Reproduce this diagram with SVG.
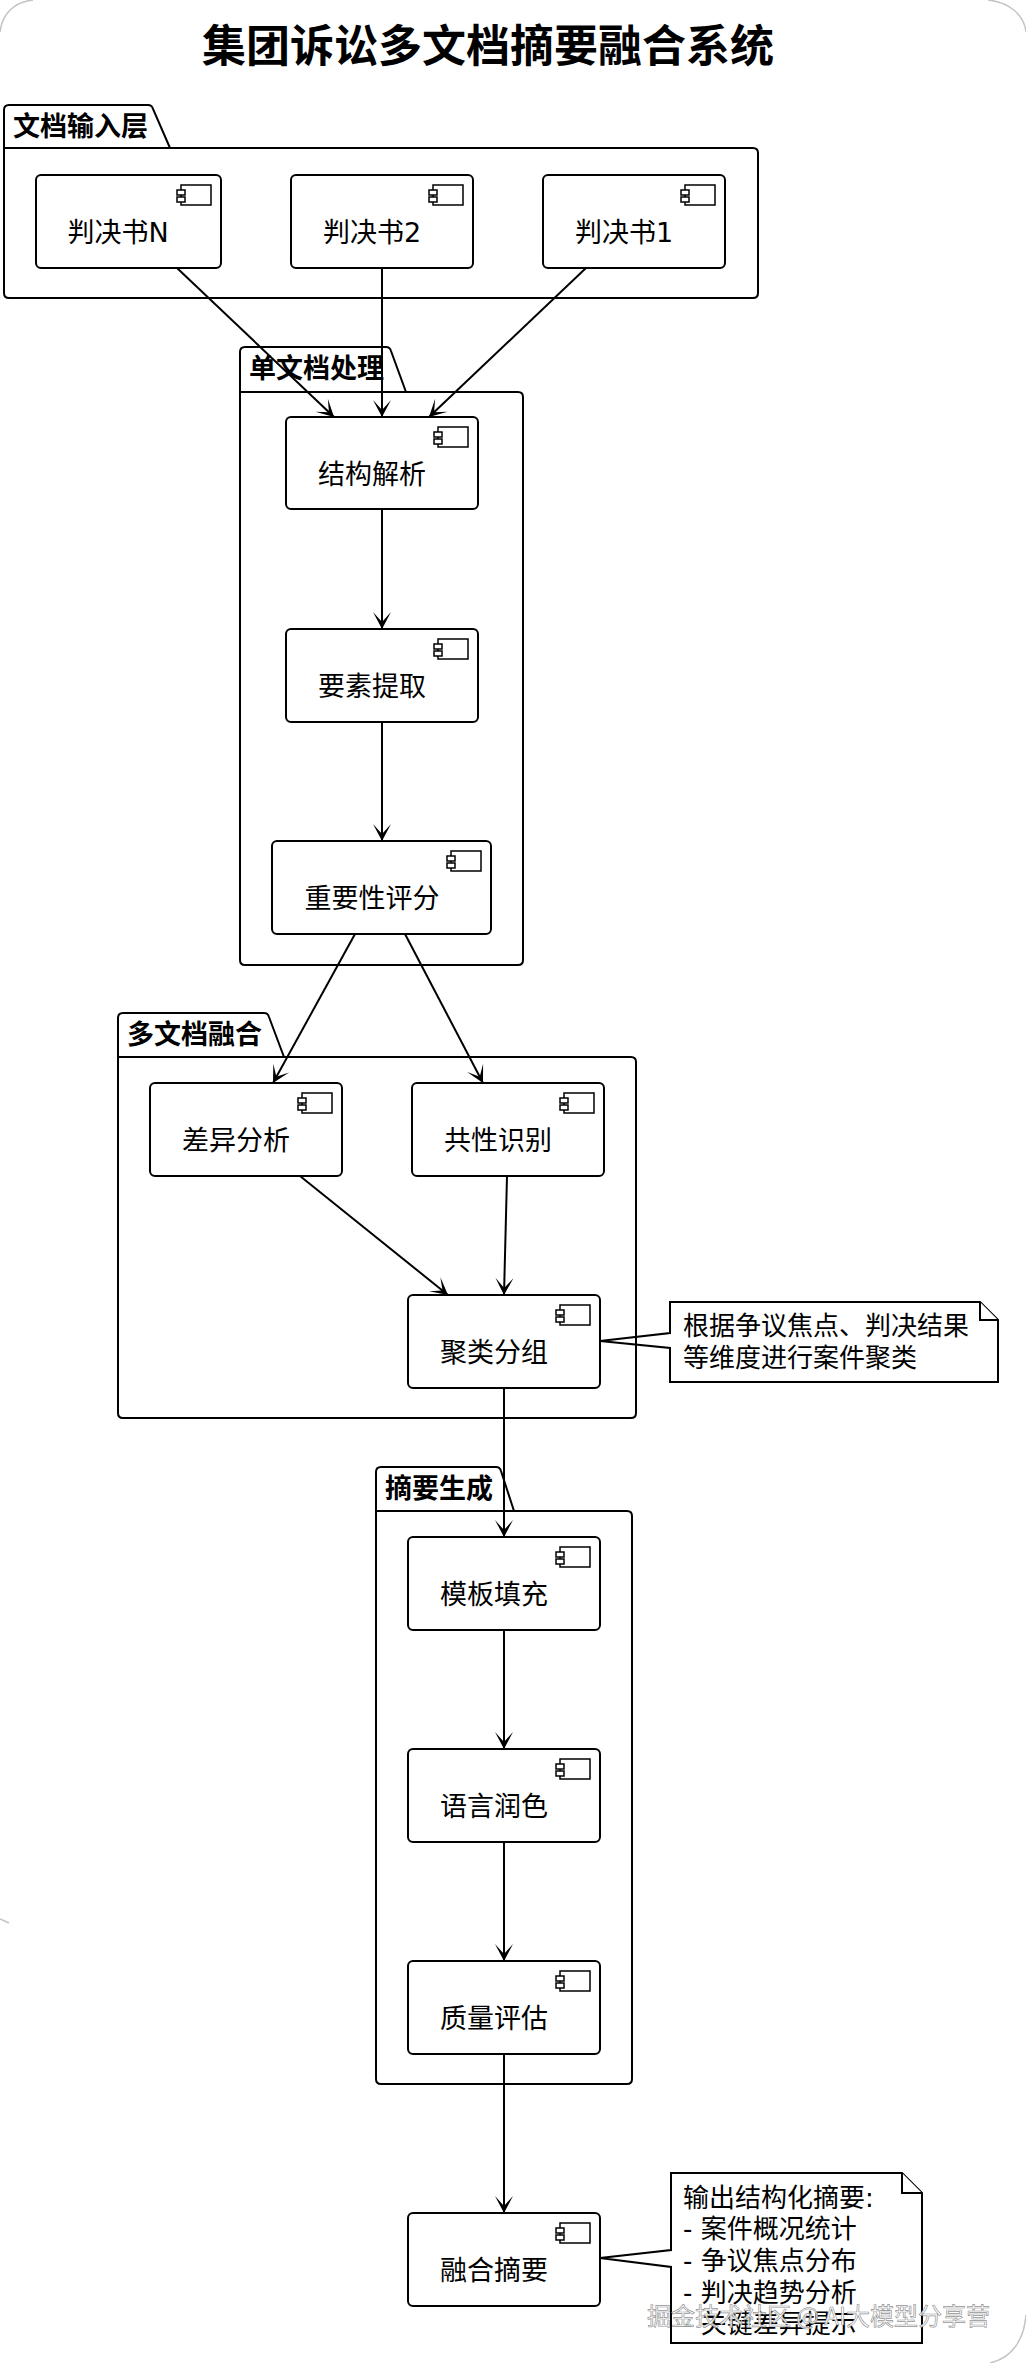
<svg xmlns="http://www.w3.org/2000/svg" width="1026" height="2363" viewBox="0 0 1026 2363">
<defs>
<style>
.pkg{fill:none;stroke:#000;stroke-width:2}
.node{fill:#fff;stroke:#000;stroke-width:2}
.ico{fill:#fff;stroke:#000;stroke-width:1.5}
.conn{fill:none;stroke:#000;stroke-width:2}
.note{fill:#fff;stroke:#000;stroke-width:2}
.lbl{font-family:"DejaVu Sans","Noto Sans CJK SC",sans-serif;font-size:27px;fill:#000;text-anchor:middle}
.ptitle{font-family:"DejaVu Sans","Noto Sans CJK SC",sans-serif;font-size:27px;font-weight:bold;fill:#000}
.ntxt{font-family:"DejaVu Sans","Noto Sans CJK SC",sans-serif;font-size:26px;fill:#000}
.title{font-family:"Noto Sans CJK SC",sans-serif;font-size:44px;font-weight:bold;fill:#000;text-anchor:middle}
.wm{font-family:"Noto Sans CJK SC",sans-serif;font-size:24px;fill:#fff;fill-opacity:0.9;stroke:#8a8a8a;stroke-width:0.7;stroke-opacity:0.9;text-anchor:end}
.frame{fill:none;stroke:#c4c4c4;stroke-width:1.5}
</style>
<marker id="arr" viewBox="-18 -10 20 20" refX="0" refY="0" markerWidth="20" markerHeight="20" markerUnits="userSpaceOnUse" orient="auto">
<path d="M0,0 L-17,-9 L-7,0 L-17,9 Z" fill="#000"/>
</marker>
<g id="icon">
<rect class="ico" x="-40" y="10" width="30" height="20"/>
<rect class="ico" x="-44" y="15" width="8" height="5"/>
<rect class="ico" x="-44" y="22" width="8" height="5"/>
</g>
</defs>
<rect x="0" y="0" width="1026" height="2363" fill="#fff"/>
<g id="frame">
<path class="frame" d="M0,32 C2,14 14,2 33,0"/>
<path class="frame" d="M988,0 C1008,2 1024,14 1026,32"/>
<path class="frame" d="M1026,2315 C1024,2340 1012,2358 990,2363"/>
<path class="frame" d="M0,1919 L9,1923"/>
</g>
<text class="title" x="488" y="62">集团诉讼多文档摘要融合系统</text>

<g id="notes">
<g id="note1">
<path class="note" d="M670,1302 L980,1302 L998,1320 L998,1382 L670,1382 L670,1348 L600,1341 L670,1333 Z"/>
<path class="note" d="M980,1302 L980,1320 L998,1320" fill="none"/>
<text class="ntxt" x="683" y="1335">根据争议焦点、判决结果</text>
<text class="ntxt" x="683" y="1367">等维度进行案件聚类</text>
</g>
<g id="note2">
<path class="note" d="M671,2173 L902,2173 L922,2193 L922,2343 L671,2343 L671,2267 L600,2258 L671,2250 Z"/>
<path class="note" d="M902,2173 L902,2193 L922,2193" fill="none"/>
<text class="ntxt" x="683" y="2207">输出结构化摘要:</text>
<text class="ntxt" x="683" y="2238">- 案件概况统计</text>
<text class="ntxt" x="683" y="2270">- 争议焦点分布</text>
<text class="ntxt" x="683" y="2302">- 判决趋势分析</text>
<text class="ntxt" x="683" y="2333">- 关键差异提示</text>
</g>
</g>

<g id="packages">
<g id="pkg-input">
<path class="pkg" d="M4,148 L4,110 Q4,105 9,105 L148,105 Q152,105 153,109 L170,148"/>
<path class="pkg" d="M4,148 L753,148 Q758,148 758,153 L758,293 Q758,298 753,298 L9,298 Q4,298 4,293 Z"/>
<text class="ptitle" x="13" y="136">文档输入层</text>
</g>
<g id="pkg-single">
<path class="pkg" d="M240,392 L240,352 Q240,347 245,347 L386,347 Q390,347 391,351 L406,392"/>
<path class="pkg" d="M240,392 L518,392 Q523,392 523,397 L523,960 Q523,965 518,965 L245,965 Q240,965 240,960 Z"/>
<text class="ptitle" x="249" y="378">单文档处理</text>
</g>
<g id="pkg-multi">
<path class="pkg" d="M118,1057 L118,1018 Q118,1013 123,1013 L264,1013 Q268,1013 269,1017 L284,1057"/>
<path class="pkg" d="M118,1057 L631,1057 Q636,1057 636,1062 L636,1413 Q636,1418 631,1418 L123,1418 Q118,1418 118,1413 Z"/>
<text class="ptitle" x="127" y="1044">多文档融合</text>
</g>
<g id="pkg-summary">
<path class="pkg" d="M376,1511 L376,1472 Q376,1467 381,1467 L496,1467 Q500,1467 501,1471 L514,1511"/>
<path class="pkg" d="M376,1511 L627,1511 Q632,1511 632,1516 L632,2079 Q632,2084 627,2084 L381,2084 Q376,2084 376,2079 Z"/>
<text class="ptitle" x="385" y="1498">摘要生成</text>
</g>
</g>

<g id="connectors">
<line class="conn" x1="177" y1="268" x2="334" y2="417" marker-end="url(#arr)"/>
<line class="conn" x1="382" y1="268" x2="382" y2="417" marker-end="url(#arr)"/>
<line class="conn" x1="586" y1="268" x2="429" y2="417" marker-end="url(#arr)"/>
<line class="conn" x1="382" y1="509" x2="382" y2="629" marker-end="url(#arr)"/>
<line class="conn" x1="382" y1="722" x2="382" y2="841" marker-end="url(#arr)"/>
<line class="conn" x1="355" y1="934" x2="273" y2="1083" marker-end="url(#arr)"/>
<line class="conn" x1="405" y1="934" x2="483" y2="1083" marker-end="url(#arr)"/>
<line class="conn" x1="300" y1="1176" x2="448" y2="1295" marker-end="url(#arr)"/>
<line class="conn" x1="507" y1="1176" x2="504" y2="1295" marker-end="url(#arr)"/>
<line class="conn" x1="504" y1="1388" x2="504" y2="1537" marker-end="url(#arr)"/>
<line class="conn" x1="504" y1="1630" x2="504" y2="1749" marker-end="url(#arr)"/>
<line class="conn" x1="504" y1="1842" x2="504" y2="1961" marker-end="url(#arr)"/>
<line class="conn" x1="504" y1="2054" x2="504" y2="2213" marker-end="url(#arr)"/>
</g>

<g id="nodes">
<g id="n-docN"><rect class="node" x="36" y="175" width="185" height="93" rx="5"/><use href="#icon" x="221" y="175"/><text class="lbl" x="118" y="242">判决书N</text></g>
<g id="n-doc2"><rect class="node" x="291" y="175" width="182" height="93" rx="5"/><use href="#icon" x="473" y="175"/><text class="lbl" x="372" y="242">判决书2</text></g>
<g id="n-doc1"><rect class="node" x="543" y="175" width="182" height="93" rx="5"/><use href="#icon" x="725" y="175"/><text class="lbl" x="624" y="242">判决书1</text></g>
<g id="n-parse"><rect class="node" x="286" y="417" width="192" height="92" rx="5"/><use href="#icon" x="478" y="417"/><text class="lbl" x="372" y="484">结构解析</text></g>
<g id="n-extract"><rect class="node" x="286" y="629" width="192" height="93" rx="5"/><use href="#icon" x="478" y="629"/><text class="lbl" x="372" y="696">要素提取</text></g>
<g id="n-score"><rect class="node" x="272" y="841" width="219" height="93" rx="5"/><use href="#icon" x="491" y="841"/><text class="lbl" x="372" y="908">重要性评分</text></g>
<g id="n-diff"><rect class="node" x="150" y="1083" width="192" height="93" rx="5"/><use href="#icon" x="342" y="1083"/><text class="lbl" x="236" y="1150">差异分析</text></g>
<g id="n-common"><rect class="node" x="412" y="1083" width="192" height="93" rx="5"/><use href="#icon" x="604" y="1083"/><text class="lbl" x="498" y="1150">共性识别</text></g>
<g id="n-cluster"><rect class="node" x="408" y="1295" width="192" height="93" rx="5"/><use href="#icon" x="600" y="1295"/><text class="lbl" x="494" y="1362">聚类分组</text></g>
<g id="n-template"><rect class="node" x="408" y="1537" width="192" height="93" rx="5"/><use href="#icon" x="600" y="1537"/><text class="lbl" x="494" y="1604">模板填充</text></g>
<g id="n-polish"><rect class="node" x="408" y="1749" width="192" height="93" rx="5"/><use href="#icon" x="600" y="1749"/><text class="lbl" x="494" y="1816">语言润色</text></g>
<g id="n-quality"><rect class="node" x="408" y="1961" width="192" height="93" rx="5"/><use href="#icon" x="600" y="1961"/><text class="lbl" x="494" y="2028">质量评估</text></g>
<g id="n-fusion"><rect class="node" x="408" y="2213" width="192" height="93" rx="5"/><use href="#icon" x="600" y="2213"/><text class="lbl" x="494" y="2280">融合摘要</text></g>
</g>

<text class="wm" x="990" y="2325">掘金技术社区 @ AI大模型分享营</text>
</svg>
